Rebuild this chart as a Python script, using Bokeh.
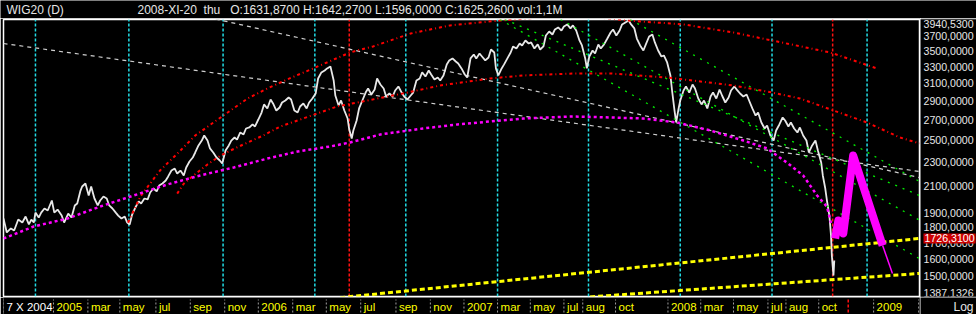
from bokeh.plotting import figure
from bokeh.models import Range1d
from bokeh.layouts import column, row
from bokeh.embed import file_html
from bokeh.resources import INLINE
from bokeh.core.properties import value

FONT = "Liberation Sans"
NB = "\u00a0"

# ---------------- data ----------------
# x = trading-day index since 7 X 2004
x_tick_idx = [0, 61, 103, 142, 186, 228, 270, 311, 353, 394, 436, 479, 521, 562,
              603, 643, 684, 707, 747, 811, 851, 891, 933, 955, 995, 1062]
x_tick_lbl = ["7 X 2004", "2005", "mar", "may", "jul", "sep", "nov", "2006", "mar",
              "may", "jul", "sep", "nov", "2007", "mar", "may", "jul", "aug", "oct",
              "2008", "mar", "may", "jul", "aug", "oct", "2009"]
edge_tick_idx = [1117]

y_ticks = [1387.1326, 1500, 1600, 1700, 1800, 1900, 2100, 2300, 2500, 2700, 2900,
           3100, 3300, 3500, 3700, 3940.53]
y_tick_lbl = ["1387,1326", "1500,0000", "1600,0000", "1700,0000", "1800,0000",
              "1900,0000", "2100,0000", "2300,0000", "2500,0000", "2700,0000",
              "2900,0000", "3100,0000", "3300,0000", "3500,0000", "3700,0000",
              "3940,5300"]

price_idx = [0, 4, 9, 13, 18, 23, 27, 31, 34, 37, 39, 43, 46, 50, 54, 59, 62, 66, 71, 74,
             79, 83, 87, 90, 94, 96, 100, 104, 107, 111, 115, 118, 122, 126, 129, 133, 137,
             140, 144, 148, 151, 154, 157, 161, 165, 168, 172, 176, 179, 183, 187, 190, 194,
             198, 201, 205, 209, 212, 216, 220, 223, 227, 231, 234, 238, 242, 245, 249, 252,
             256, 260, 264, 267, 271, 275, 278, 282, 285, 289, 293, 296, 300, 304, 307, 311,
             315, 318, 322, 326, 329, 333, 337, 340, 344, 348, 351, 355, 359, 362, 366, 370,
             373, 377, 381, 384, 388, 392, 395, 399, 403, 405, 409, 412, 416, 420, 422, 425,
             427, 431, 434, 438, 442, 445, 449, 453, 456, 460, 464, 467, 471, 475, 478, 482,
             486, 489, 493, 497, 500, 504, 508, 511, 515, 519, 522, 526, 530, 533, 537, 541,
             544, 548, 552, 555, 559, 563, 566, 570, 574, 577, 581, 584, 588, 592, 595, 599,
             601, 604, 608, 611, 615, 619, 622, 626, 630, 633, 637, 641, 644, 648, 652, 655,
             659, 662, 666, 670, 673, 677, 681, 684, 688, 692, 695, 699, 703, 706, 710, 712,
             715, 719, 722, 726, 729, 733, 737, 741, 744, 748, 752, 755, 759, 763, 766, 770,
             773, 777, 781, 784, 788, 792, 795, 799, 803, 806, 810, 814, 816, 819, 821, 824,
             826, 830, 833, 837, 841, 844, 848, 852, 855, 859, 863, 866, 870, 874, 877, 881,
             885, 888, 892, 895, 899, 903, 907, 910, 914, 918, 921, 925, 929, 932, 936, 940,
             943, 947, 951, 954, 958, 961, 965, 969, 972, 976, 980, 983, 987, 991, 994, 998,
             1000, 1003, 1005, 1008, 1010, 1011, 1013, 1014]
price_close = [1861, 1766, 1793, 1779, 1854, 1833, 1875, 1820, 1854, 1833, 1903, 1868, 1903,
               1933, 1918, 1992, 1903, 1925, 1882, 1833, 1896, 1868, 1955, 1970, 2068, 2100,
               2124, 2030, 2100, 2007, 1955, 1992, 2022, 2007, 1955, 1933, 1903, 1882, 1861,
               1875, 1833, 1820, 1889, 1940, 1985, 1970, 2007, 2000, 2053, 2084, 2061, 2108,
               2124, 2148, 2181, 2230, 2247, 2205, 2230, 2189, 2256, 2307, 2342, 2387, 2451,
               2497, 2545, 2497, 2424, 2387, 2342, 2316, 2290, 2405, 2451, 2497, 2526, 2506,
               2574, 2555, 2613, 2623, 2653, 2633, 2703, 2775, 2861, 2818, 2915, 2872, 2796,
               2828, 2882, 2904, 2937, 2915, 2796, 2775, 2839, 2872, 2818, 2882, 2926, 2981,
               3155, 3228, 3252, 3277, 3302, 3131, 2959, 2850, 2904, 2796, 2713, 2603, 2516,
               2593, 2693, 2818, 2904, 2992, 3038, 2970, 3026, 3155, 3084, 3038, 2948, 2981,
               2948, 3015, 3061, 2992, 2948, 2915, 2959, 2992, 3131, 3155, 3228, 3179, 3252,
               3203, 3143, 3167, 3131, 3191, 3327, 3377, 3403, 3364, 3339, 3277, 3203, 3167,
               3403, 3454, 3403, 3467, 3428, 3377, 3415, 3519, 3480, 3277, 3191, 3277, 3327,
               3403, 3480, 3560, 3533, 3600, 3573, 3641, 3600, 3614, 3533, 3587, 3519, 3560,
               3710, 3766, 3724, 3795, 3824, 3780, 3839, 3868, 3810, 3854, 3780, 3641, 3573,
               3403, 3277, 3428, 3506, 3467, 3587, 3533, 3587, 3668, 3752, 3795, 3710, 3780,
               3868, 3897, 3926, 3868, 3810, 3668, 3573, 3506, 3587, 3696, 3724, 3614, 3506,
               3428, 3441, 3352, 3191, 3015, 2796, 2673, 2818, 2904, 3015, 3061, 2992, 3084,
               3038, 2926, 2861, 2904, 2818, 2948, 2992, 2926, 3026, 2959, 2882, 2937, 3015,
               3061, 3026, 2981, 2948, 2970, 2904, 2818, 2744, 2775, 2673, 2613, 2643, 2545,
               2497, 2593, 2653, 2724, 2693, 2633, 2673, 2613, 2574, 2623, 2545, 2497, 2387,
               2451, 2497, 2405, 2299, 2189, 2084, 1992, 1882, 1746, 1619, 1501, 1589]

cyan_idx = [39, 153, 268, 380, 491, 603, 714, 826, 938, 1054]
red_idx = [422, 1012]
cursor_idx = 1031

arc_up_idx = [152, 167, 191, 216, 234, 265, 298, 322, 346, 378, 423, 451, 497, 545, 606, 627,
              692, 761, 830, 891, 932, 1009, 1066]
arc_up_val = [1833, 2022, 2230, 2405, 2545, 2724, 2926, 3038, 3143, 3277, 3480, 3560, 3738,
              3854, 3926, 3941, 4016, 3926, 3868, 3752, 3655, 3480, 3277]
arc_mid_idx = [212, 220, 232, 249, 265, 277, 298, 317, 338, 359, 383, 407, 432, 493, 533, 594,
               634, 695, 741, 810, 891, 932, 972, 1013, 1054, 1094, 1118]
arc_mid_val = [2044, 2122, 2189, 2282, 2360, 2405, 2479, 2545, 2633, 2693, 2765, 2839, 2882,
               2992, 3073, 3155, 3191, 3215, 3215, 3167, 3073, 3004, 2926, 2796, 2673, 2526, 2470]
arc_mag_idx = [0, 37, 78, 118, 159, 200, 240, 281, 322, 359, 399, 423, 460, 512, 554, 594, 634,
               695, 741, 781, 822, 863, 903, 932, 956, 976, 993, 1005, 1010]
arc_mag_val = [1726, 1806, 1861, 1947, 2030, 2116, 2189, 2256, 2333, 2396, 2442, 2479, 2555,
               2613, 2653, 2683, 2713, 2734, 2724, 2713, 2673, 2593, 2497, 2424, 2299, 2189,
               2030, 1947, 1830]

gray_a_idx, gray_a_val = [0, 1118], [3600, 2222]
gray_b_idx, gray_b_val = [240, 1118], [4000, 2172]

green_idx = [[612, 1118], [606, 1118], [765, 1118], [680, 1118]]
green_val = [[3940, 2030], [3940, 1600], [3940, 2140], [3940, 1850]]

yel_hi_idx, yel_hi_val = [411, 1118], [1381, 1726.31]
yel_lo_idx, yel_lo_val = [716, 1118], [1385, 1513]

fc_idx = [1015, 1019, 1025, 1037, 1073]
fc_val = [1726, 1847, 1759, 2360, 1681]
fc_tail_idx = [1073, 1085]
fc_tail_val = [1681, 1513]

marker_val = 1726.31
marker_lbl = "1726,3100"
header_left = "WIG20 (D)"
header_right = ("2008-XI-20" + NB * 2 + "thu" + NB * 3 + "O:1631,8700 H:1642,2700 "
                "L:1596,0000 C:1625,2600 vol:1,1M")

Y_MIN, Y_MAX = y_ticks[0], y_ticks[-1]
X_MAX = 1118
TXT = "#e6e6e6"
BG = "black"


def bare(**kw):
    f = figure(toolbar_location=None, output_backend="svg", title=None,
               x_axis_location=None, y_axis_location=None,
               background_fill_color=BG, border_fill_color=BG,
               outline_line_color=None, **kw)
    f.grid.visible = False
    return f


# ---------------- header ----------------
h = bare(width=976, height=18, x_range=Range1d(0, 976), y_range=Range1d(0, 18),
         min_border_left=0, min_border_right=0, min_border_top=0, min_border_bottom=0)
h.text(x=[6], y=[9], text=[header_left], text_color=TXT, text_font=value(FONT),
       text_font_size="12px", text_baseline="middle", text_align="left")
h.text(x=[137], y=[9], text=[header_right], text_color=TXT, text_font=value(FONT),
       text_font_size="12px", text_baseline="middle", text_align="left")

# ---------------- main chart ----------------
xr = Range1d(0, X_MAX)
yr = Range1d(Y_MIN, Y_MAX)
p = bare(width=920, height=279, x_range=xr, y_range=yr, y_axis_type="log",
         min_border_left=3, min_border_right=1, min_border_top=1, min_border_bottom=1)
p.outline_line_color = "white"
p.outline_line_width = 1.5

p.segment(x0=cyan_idx, y0=Y_MIN, x1=cyan_idx, y1=Y_MAX, line_color="#22dde6",
          line_width=1.5, line_dash="3 2")
p.segment(x0=red_idx, y0=Y_MIN, x1=red_idx, y1=Y_MAX, line_color="#ff1010",
          line_width=1.5, line_dash="3 2")

p.line(gray_a_idx, gray_a_val, line_color="#cfcfcf", line_width=1.2, line_dash="4 4")
p.line(gray_b_idx, gray_b_val, line_color="#cfcfcf", line_width=1.2, line_dash="4 4")

p.line(price_idx, price_close, line_color="#e8e8e8", line_width=1.8)

p.line(arc_up_idx, arc_up_val, line_color="#ff0000", line_width=2, line_dash="3 3 1 3")
p.line(arc_mid_idx, arc_mid_val, line_color="#ff0000", line_width=2, line_dash="3 3 1 3")
p.line(arc_mag_idx, arc_mag_val, line_color="#ff00ff", line_width=2.5, line_dash="3 3")

p.multi_line(green_idx, green_val, line_color="#00ee00", line_width=1.3, line_dash="2 6")

p.line(yel_hi_idx, yel_hi_val, line_color="#ffff00", line_width=3, line_dash="5 3")
p.line(yel_lo_idx, yel_lo_val, line_color="#ffff00", line_width=3, line_dash="5 3")

p.line(fc_idx, fc_val, line_color="#ff00ff", line_width=8, line_join="round")
p.line(fc_tail_idx, fc_tail_val, line_color="#ff00ff", line_width=1.5)

# ---------------- price scale (right) ----------------
sc = bare(width=56, height=279, x_range=Range1d(0, 56), y_range=yr, y_axis_type="log",
          min_border_left=0, min_border_right=0, min_border_top=1, min_border_bottom=1)
mid_t = y_ticks[1:-1]
mid_l = y_tick_lbl[1:-1]
SC_FS = "10.6px"
sc.text(x=[3] * len(mid_t), y=mid_t, text=mid_l, text_color=TXT, text_font=value(FONT),
        text_font_size=SC_FS, text_baseline="middle", text_align="left")
sc.text(x=[3], y=[Y_MAX], text=[y_tick_lbl[-1]], text_color=TXT, text_font=value(FONT),
        text_font_size=SC_FS, text_baseline="top", text_align="left")
sc.text(x=[3], y=[Y_MIN], text=[y_tick_lbl[0]], text_color=TXT, text_font=value(FONT),
        text_font_size=SC_FS, text_baseline="bottom", text_align="left")
sc.text(x=[3], y=[marker_val], text=[marker_lbl], text_color="white", text_font=value(FONT),
        text_font_size=SC_FS, text_baseline="middle", text_align="left",
        background_fill_color="#cc0000", padding=1)

# ---------------- date strip ----------------
s = bare(width=920, height=17, x_range=xr, y_range=Range1d(0, 17),
         min_border_left=3, min_border_right=1, min_border_top=0, min_border_bottom=0)
s.segment(x0=x_tick_idx + edge_tick_idx, y0=2, x1=x_tick_idx + edge_tick_idx, y1=15,
          line_color="#a0a0a0", line_width=1, line_dash="2 2")
s.segment(x0=[cursor_idx], y0=2, x1=[cursor_idx], y1=17, line_color="#ff1010",
          line_width=1.5, line_dash="3 2")
lbl_colors = ["#ffffff"] + ["#ffff00"] * (len(x_tick_lbl) - 1)
s.text(x=x_tick_idx, y=8, text=x_tick_lbl, text_color=lbl_colors, x_offset=3,
       text_font=value(FONT), text_font_size="11.5px", text_align="left",
       text_baseline="middle")

lg = bare(width=56, height=17, x_range=Range1d(0, 56), y_range=Range1d(0, 17),
          min_border_left=0, min_border_right=0, min_border_top=0, min_border_bottom=0)
lg.text(x=[53], y=[8], text=["Log"], text_color=TXT, text_font=value(FONT),
        text_font_size="12px", text_align="right", text_baseline="middle")

layout = column(h, row(p, sc, spacing=0), row(s, lg, spacing=0), spacing=0)
open("out.html", "w").write(file_html(layout, INLINE))
